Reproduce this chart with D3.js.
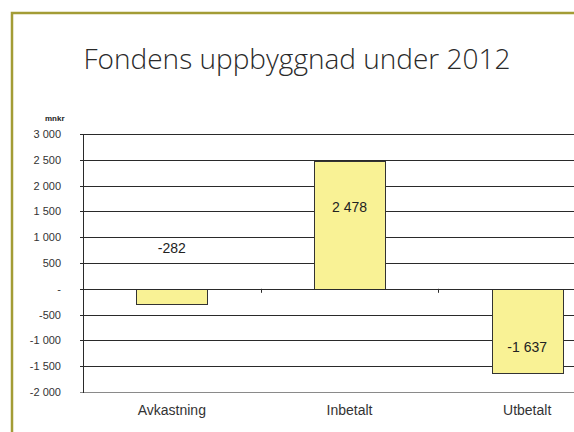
<!DOCTYPE html>
<html>
<head>
<meta charset="utf-8">
<script src="https://cdn.jsdelivr.net/npm/d3@7"></script>
<style>
  body { margin: 0; background: #fff; }
  svg { display: block; }
</style>
</head>
<body>
<div class="chart"></div>
<script>
var categories = ['Avkastning', 'Inbetalt', 'Utbetalt'];
var values = [-282, 2478, -1637];
var labels = ['-282', '2 478', '-1 637'];
var yTicks = [3000, 2500, 2000, 1500, 1000, 500, 0, -500, -1000, -1500, -2000];
var yTickLabels = ['3 000', '2 500', '2 000', '1 500', '1 000', '500', '-', '-500', '-1 000', '-1 500', '-2 000'];

var width = 574,
    height = 432;

var svg = d3.select('.chart').append('svg')
  .attr('width', width)
  .attr('height', height);

// olive frame, only top and left visible
svg.append('path')
  .attr('d', 'M12,432 V13 H574')
  .attr('fill', 'none')
  .attr('stroke', '#a39c36')
  .attr('stroke-width', 2.5);

svg.append('text')
  .attr('x', 297)
  .attr('y', 69)
  .attr('text-anchor', 'middle')
  .style('font-family', '"Open Sans", sans-serif')
  .style('font-weight', 300)
  .style('font-size', '28px')
  .style('fill', '#2a2a2a')
  .text('Fondens uppbyggnad under 2012');

svg.append('text')
  .attr('x', 45)
  .attr('y', 121)
  .style('font-family', 'Arial, "Liberation Sans", sans-serif')
  .style('font-weight', 'bold')
  .style('font-size', '8px')
  .style('fill', '#222')
  .text('mnkr');

var plotLeft = 83,
    plotRight = 616;

var y = d3.scaleLinear().domain([-2000, 3000]).range([392, 134]);
var x = d3.scaleBand().domain(categories).range([plotLeft, plotRight]).paddingInner(0.6).paddingOuter(0.3);
var xb = d3.scaleBand().domain(categories).range([plotLeft, plotRight]);

// gridlines
svg.append('g').attr('class', 'grid')
  .selectAll('line')
  .data(yTicks)
  .enter().append('line')
  .attr('x1', plotLeft - 3)
  .attr('x2', width)
  .attr('y1', function(d) { return Math.round(y(d)) + 0.5; })
  .attr('y2', function(d) { return Math.round(y(d)) + 0.5; })
  .attr('stroke', function(d) { return d === -2000 ? '#8a8a8a' : '#2a2a2a'; })
  .attr('stroke-width', 1);

// y axis line
svg.append('line')
  .attr('x1', plotLeft + 0.5).attr('x2', plotLeft + 0.5)
  .attr('y1', y(3000)).attr('y2', y(-2000) + 1)
  .attr('stroke', '#2a2a2a');

// y labels
svg.append('g').selectAll('text')
  .data(yTicks)
  .enter().append('text')
  .attr('x', 61)
  .attr('y', function(d) { return y(d) + 4; })
  .attr('text-anchor', 'end')
  .style('font-family', 'Arial, "Liberation Sans", sans-serif')
  .style('font-size', '11px')
  .style('fill', '#333')
  .text(function(d, i) { return yTickLabels[i]; });

// bars
svg.append('g').selectAll('rect')
  .data(values)
  .enter().append('rect')
  .attr('x', function(d, i) { return Math.round(x(categories[i])) + 0.5; })
  .attr('width', Math.round(x.bandwidth()))
  .attr('y', function(d) { return Math.round(y(Math.max(0, d))) + 0.5; })
  .attr('height', function(d) { return Math.round(Math.abs(y(d) - y(0))); })
  .attr('fill', '#f9f295')
  .attr('stroke', '#333')
  .attr('stroke-width', 1);

// zero line on top
svg.append('line')
  .attr('x1', plotLeft)
  .attr('x2', width)
  .attr('y1', Math.round(y(0)) + 0.5)
  .attr('y2', Math.round(y(0)) + 0.5)
  .attr('stroke', '#2a2a2a');

// category ticks
svg.append('g').selectAll('line')
  .data(categories.slice(1))
  .enter().append('line')
  .attr('x1', function(d) { return Math.round(xb(d)) + 0.5; })
  .attr('x2', function(d) { return Math.round(xb(d)) + 0.5; })
  .attr('y1', y(0))
  .attr('y2', y(0) + 4)
  .attr('stroke', '#2a2a2a');

// data labels, baseline anchored in value units
var labelAt = [694, 1488, -1225];
svg.append('g').selectAll('text')
  .data(values)
  .enter().append('text')
  .attr('x', function(d, i) { return x(categories[i]) + x.bandwidth() / 2; })
  .attr('y', function(d, i) { return y(labelAt[i]); })
  .attr('text-anchor', 'middle')
  .style('font-family', 'Arial, "Liberation Sans", sans-serif')
  .style('font-size', '14px')
  .style('fill', '#222')
  .text(function(d, i) { return labels[i]; });

// category labels
svg.append('g').selectAll('text')
  .data(categories)
  .enter().append('text')
  .attr('x', function(d) { return xb(d) + xb.bandwidth() / 2; })
  .attr('y', 415)
  .attr('text-anchor', 'middle')
  .style('font-family', 'Arial, "Liberation Sans", sans-serif')
  .style('font-size', '14px')
  .style('fill', '#333')
  .text(function(d) { return d; });
</script>
</body>
</html>
